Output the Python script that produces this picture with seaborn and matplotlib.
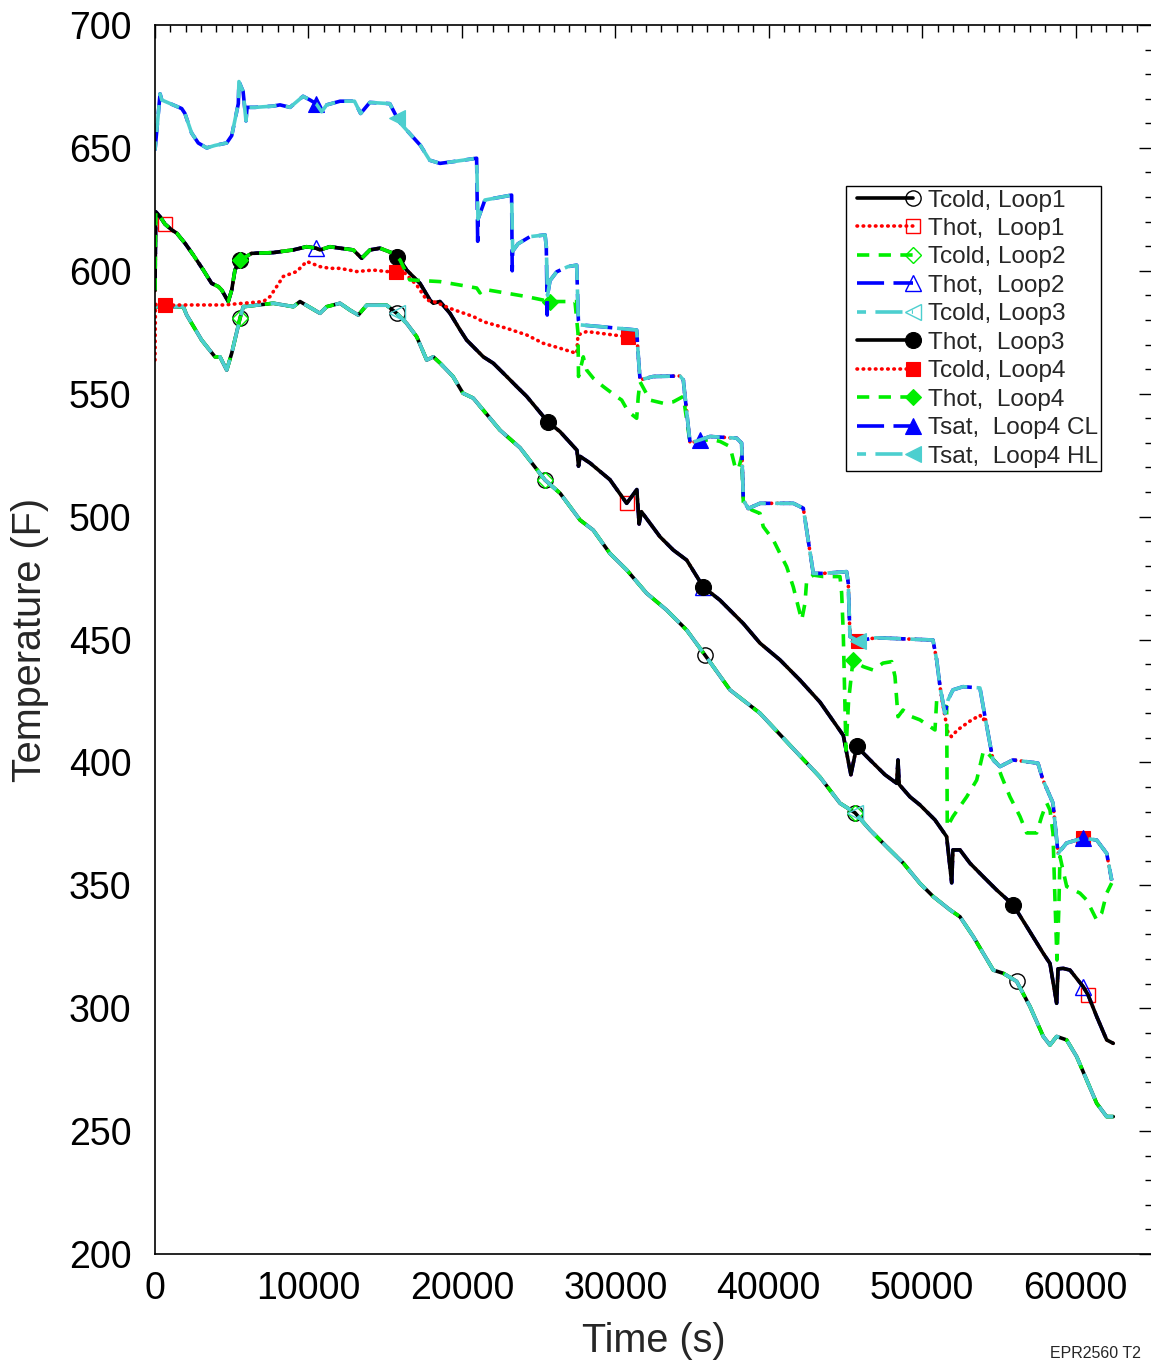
import numpy as np
import matplotlib
matplotlib.use("Agg")
import matplotlib.pyplot as plt
import seaborn as sns
from matplotlib.lines import Line2D
from matplotlib.ticker import MultipleLocator
from matplotlib.legend_handler import HandlerLine2D

# ---------------- data (time in s, temperature in F) ----------------
# Saturation temperature, hot leg (cold leg identical except for spikes)
TSAT_T = [0, 330, 440, 1740, 1950, 2390, 2820, 3370, 3910, 4670, 5000, 5430, 5470, 5740,
          5930, 6000, 6520, 7690, 8150, 8800, 9650, 10100, 10500, 10860, 11190, 12060, 13000,
          13400, 14000, 15300, 15800, 16000, 17300, 17900, 18570, 19420, 20960, 21050, 21500,
          23240, 23310, 23660, 24440, 25420, 25500, 25580, 25740, 26180, 26910, 27480, 27590,
          27700, 29000, 31390, 31500, 31610, 32470, 34210, 34430, 34540, 34870, 35520, 36170,
          37910, 38230, 38340, 38660, 39430, 41600, 42250, 42900, 43550, 45070, 45180, 45290,
          45800, 47000, 50700, 50940, 51160, 51480, 51680, 52000, 52660, 53760, 54090, 54610,
          55070, 55910, 57540, 57870, 58520, 58850, 59410, 60480, 61370, 62020, 62350]
TSAT_HL = [649, 672, 669.5, 666, 664, 656, 652, 650, 651, 652, 655, 668, 677, 673,
           661, 666.5, 666.5, 667, 667.5, 666.5, 671, 669.5, 668, 664.7, 667.5, 669, 669,
           664, 668.5, 668, 662, 660, 651, 645, 643.7, 644.4, 645.8, 621, 628.8,
           630.8, 608, 611, 613.9, 614.6, 609.8, 590, 596, 599.6, 601.7, 602.3, 580,
           578, 577.3, 575.9, 565, 555.6, 557, 557.2, 555.6, 548.9, 529.9, 531.2, 532.6,
           531.9, 529.9, 506.8, 503.3, 505.4, 505.4, 503.4, 476.9, 476.9, 477.6, 472.9, 451.2,
           449.5, 450.7, 449.8, 441.7, 430.8, 420, 425.4, 429.5, 430.8, 430.3, 418.6, 401,
           398.3, 401, 399.7, 392.8, 383.5, 363, 367.2, 369.2, 368.4, 363, 352]
CL_SPIKE_T = [21030, 23280, 25560]
CL_SPIKE_V = [612, 600, 582]

# Hot-leg temperature, loops 1-3
THOT_T = [0, 50, 330, 650, 1100, 1420, 1955, 2500, 3150, 3690, 4125, 4345, 4775, 5000, 5210,
          5540, 6300, 7710, 9010, 9880, 10500, 10750, 11400, 12060, 12920, 13470, 14010, 14660,
          15530, 15800, 15970, 16400, 17270, 17920, 18140, 18570, 19225, 19876, 20313, 20743,
          21395, 22046, 22920, 23571, 24223, 25610, 26390, 27500, 27600, 27700, 28350, 29650,
          30740, 31400, 31550, 31700, 32910, 33776, 34650, 35730, 36820, 38340, 39430, 40730,
          42030, 43340, 44855, 45350, 45730, 46600, 47570, 48335, 48420, 48500, 49200, 49850,
          50830, 51590, 51920, 52000, 52460, 53110, 53980, 54850, 55930, 56810, 57890, 58325,
          58760, 58850, 59190, 59630, 60495, 60800, 61370, 62020, 62450]
THOT_V = [592, 624, 622, 619, 616.6, 615.3, 611.2, 606.4, 600.3, 594.9, 593.6, 592.2, 587.5,
          592.2, 600.3, 604.4, 607.1, 607.4, 608.5, 609.8, 609.2, 608.5, 609.8, 609.2, 608.5,
          605.1, 608.5, 609.2, 607.1, 605.5, 604.4, 600.3, 594.9, 588.1, 586.8, 587.5, 582.7,
          576, 571.8, 569.1, 565, 562.4, 557, 552.9, 548.9, 538.5, 534.6, 527, 520.5, 524.5,
          521.8, 515, 505.4, 511, 497, 502, 491.8, 486.4, 482.3, 471.4, 466, 456.5, 448.5,
          441.7, 433.5, 424.5, 411, 395, 406.5, 401, 395, 391.5, 401, 391, 386, 382.7, 376.6,
          369.8, 351, 364.4, 364.4, 359, 353.5, 348.1, 342, 333.2, 322.3, 318.2, 302, 316,
          316.2, 315.5, 308.7, 305.5, 296.6, 287.1, 285.7]

# Cold-leg temperature, loops 1-3
TCOLD_T = [0, 110, 1845, 2065, 3043, 3910, 4236, 4673, 5000, 5540, 5754, 7710, 9013, 9450,
           10753, 11190, 12056, 12708, 13249, 13796, 15100, 15751, 16403, 17054, 17706, 18136,
           18573, 19420, 20070, 20740, 22480, 23790, 25415, 26400, 27700, 28560, 29650, 30740,
           32040, 33340, 34640, 35840, 37470, 39430, 41380, 43340, 44640, 45620, 46600, 47680,
           48770, 49850, 50720, 51810, 52460, 53330, 54630, 55280, 56155, 57020, 57890, 58325,
           58760, 59410, 60065, 61370, 62020, 62450]
TCOLD_V = [585.4, 585.4, 585.4, 582, 571.8, 565, 565, 559.6, 566.5, 580.7, 585.4, 586.8,
           585.4, 587.5, 582.7, 585.4, 586.8, 584, 582, 586, 586, 582.7, 578.6, 573.2, 563.7,
           565, 562.5, 557, 550.2, 548.2, 535.2, 528, 514.9, 509.5, 498.6, 494.5, 485, 478.3,
           468.8, 462, 453.9, 443.7, 429.5, 420, 407, 394, 383.4, 379.5, 372.5, 365.7, 359,
           350.8, 345.4, 340, 337.2, 329.1, 315.5, 314.2, 310.9, 300.7, 288.5, 285, 288.5,
           287.1, 280.3, 261.3, 255.9, 255.9]

# Cold-leg temperature, loop 4 (own values until it joins Tsat)
TC4_T = [0, 30, 110, 650, 1845, 4470, 7058, 7494, 7931, 8361, 9234, 9886, 10753, 11404, 12056,
         13144, 14226, 15100, 15700, 16181, 17054, 17706, 18136, 18573, 19225, 20743, 21395,
         22920, 24223, 25305, 26393, 27481, 27566, 28133, 29867, 30800, 31391]
TC4_V = [563.7, 586, 586.8, 586, 586.1, 586.1, 587.5, 589.5, 593.6, 597.7, 599.7, 603.8, 601.7,
         601, 601, 599.7, 600.3, 599.7, 599.7, 599.7, 594.2, 588.1, 587.5, 586.5, 584.7, 581.4,
         579.3, 576.6, 573.9, 570.5, 568.5, 566.4, 573.9, 575.3, 573.9, 573.2, 575.3]
TC4_DIP_T = [51300, 51680, 51900, 52300, 53110, 53760, 53980]
TC4_DIP_V = [425, 412, 410.5, 413.2, 416.8, 419.2, 417.2]

# Hot-leg temperature, loop 4 (follows loops 1-3 until ~16000 s)
TH4_T = [16600, 18573, 19876, 20965, 21180, 21400, 22260, 24220, 25740, 27370, 27566, 27600,
         27911, 28133, 28563, 29215, 30088, 30414, 30844, 31391, 31495, 31606, 32258, 33125,
         33776, 34428, 34870, 35516, 36168, 36820, 37472, 37797, 38013, 38233, 38338, 38885,
         39426, 39641, 40293, 40730, 41166, 41596, 41922, 42144, 42359, 42470, 42900, 43550,
         44640, 44750, 44855, 45030, 45200, 45490, 46139, 46790, 47442, 48009, 48224, 48420,
         48746, 49313, 49854, 50831, 50942, 51300, 51593, 51632, 52004, 52897, 53548, 53959,
         54089, 54852, 55178, 55718, 56370, 56807, 57458, 57784, 58110, 58325, 58521, 58651,
         58781, 58900, 58977, 59414, 60280, 60717, 61369, 61695, 62020, 62346]
TH4_V = [596.3, 595.6, 594.2, 593, 591, 592.5, 591.6, 589.5, 587.5, 587.5, 574.6, 557, 565,
         559.6, 556.3, 552.9, 548.8, 547.4, 542.7, 540, 548.9, 554.9, 547.4, 546.1, 546.7,
         548.9, 530, 530.5, 531.5, 530.6, 528.5, 520.4, 519, 524.4, 506, 502.7, 501.3, 495.9,
         490.5, 485, 479.6, 471.4, 463.3, 457.9, 464.7, 474.2, 476.2, 475.6, 475.6, 468.8,
         452.5, 405, 425, 441.7, 439, 437.6, 440.4, 441, 435, 418.6, 421.3, 418.6, 417.3,
         413.2, 425.4, 423, 422.7, 373.8, 378, 386, 392.8, 403.8, 405, 399.7, 394.2, 386, 378,
         371.3, 371.3, 378, 383.5, 380.6, 371.3, 344, 319.6, 340, 361.7, 349.5, 346.8, 344,
         335.9, 338.7, 346.8, 350.9]

LABELS = ["Tcold, Loop1", "Thot,  Loop1", "Tcold, Loop2", "Thot,  Loop2", "Tcold, Loop3",
          "Thot,  Loop3", "Tcold, Loop4", "Thot,  Loop4", "Tsat,  Loop4 CL", "Tsat,  Loop4 HL"]
MARK_TIMES = [[5600, 15800, 25800, 35800, 45800, 55800],
              [650, 30700, 60800],
              [5600, 25800, 45800],
              [10500, 35500, 60500],
              [15800, 45800],
              [5600, 15800, 25800, 35800, 45800, 55800],
              [650, 15700, 30800, 45800, 60800],
              [5600, 25800, 45800],
              [10500, 35500, 60500],
              [15800, 45800]]

# ---------------- assemble series from the arrays ----------------
tsat_t = np.array(TSAT_T, float)
tsat_hl = np.array(TSAT_HL, float)
cl_t = np.concatenate([tsat_t, CL_SPIKE_T])
cl_v = np.concatenate([tsat_hl, CL_SPIKE_V])
order = np.argsort(cl_t, kind="stable")
cl_t, cl_v = cl_t[order], cl_v[order]

thot_t, thot_v = np.array(THOT_T, float), np.array(THOT_V, float)
tcold_t, tcold_v = np.array(TCOLD_T, float), np.array(TCOLD_V, float)

m1 = (tsat_t > TC4_T[-1]) & (tsat_t < 51200)
m2 = tsat_t >= 54090
tc4_t = np.concatenate([TC4_T, tsat_t[m1], TC4_DIP_T, tsat_t[m2]])
tc4_v = np.concatenate([TC4_V, tsat_hl[m1], TC4_DIP_V, tsat_hl[m2]])

early = thot_t <= 15970
th4_t = np.concatenate([thot_t[early], TH4_T])
th4_v = np.concatenate([thot_v[early], TH4_V])

SERIES = [(tcold_t, tcold_v), (thot_t, thot_v), (tcold_t, tcold_v), (thot_t, thot_v),
          (tcold_t, tcold_v), (thot_t, thot_v), (tc4_t, tc4_v), (th4_t, th4_v),
          (cl_t, cl_v), (tsat_t, tsat_hl)]

# ---------------- styles ----------------
BLACK, RED, GREEN, BLUE, CYAN = "#000000", "#FF0000", "#00EE00", "#0000FF", "#4CCFCF"
LW = 2.6
DOT = (0, (0.15, 1.55))
GDASH = (0, (3.4, 2.6))
BDASH = (0, (7.5, 2.6))
CDASH = (5, (7.5, 2.6))
STYLES = [
    dict(color=BLACK, ls="-", marker="o", ms=11, filled=False),
    dict(color=RED, ls=DOT, marker="s", ms=9.5, filled=False),
    dict(color=GREEN, ls=GDASH, marker="D", ms=8, filled=False),
    dict(color=BLUE, ls=BDASH, marker="^", ms=12, filled=False),
    dict(color=CYAN, ls=CDASH, marker="<", ms=12, filled=False),
    dict(color=BLACK, ls="-", marker="o", ms=11.5, filled=True),
    dict(color=RED, ls=DOT, marker="s", ms=9.5, filled=True),
    dict(color=GREEN, ls=GDASH, marker="D", ms=8, filled=True),
    dict(color=BLUE, ls=BDASH, marker="^", ms=12, filled=True),
    dict(color=CYAN, ls=CDASH, marker="<", ms=12, filled=True),
]

sns.set_style("white")
plt.rcParams["font.family"] = ["Liberation Sans", "DejaVu Sans"]

W, H = 1151, 1363
fig = plt.figure(figsize=(W / 100, H / 100), dpi=100)
ax = fig.add_axes([155 / W, 109 / H, 997.4 / W, 1229 / H])

handles = []
for (t, v), st, marks in zip(SERIES, STYLES, MARK_TIMES):
    idx = sorted({int(np.argmin(np.abs(t - m))) for m in marks})
    sns.lineplot(x=t, y=v, ax=ax, estimator=None, sort=False, legend=False,
                 color=st["color"], linewidth=LW, linestyle=st["ls"],
                 marker=st["marker"], markevery=idx, markersize=st["ms"],
                 markerfacecolor=st["color"] if st["filled"] else "none",
                 markeredgecolor=st["color"], markeredgewidth=1.0 if not st["filled"] else 0.8,
                 dash_capstyle="round" if st["ls"] is DOT else "butt")
    handles.append(ax.lines[-1])

ax.set_xlim(0, 65000)
ax.set_ylim(200, 700)
ax.xaxis.set_major_locator(MultipleLocator(10000))
ax.xaxis.set_minor_locator(MultipleLocator(1000))
ax.yaxis.set_major_locator(MultipleLocator(50))
ax.yaxis.set_minor_locator(MultipleLocator(10))
ax.tick_params(which="both", direction="in", top=True, right=True, width=1.0, colors="black",
               labelsize=27)
ax.tick_params(which="major", length=9.5, pad=12)
ax.tick_params(which="minor", length=4.7)
ax.tick_params(axis="y", which="major", pad=17)
for s in ax.spines.values():
    s.set_linewidth(1.2)
    s.set_color("black")

ax.set_xlabel("Time (s)", fontsize=28.5, labelpad=11)
ax.set_ylabel("Temperature (F)", fontsize=28.5, labelpad=14)


class EndMarkerHandler(HandlerLine2D):
    """Line handle with its single marker drawn at the right end."""

    def get_xdata(self, legend, xdescent, ydescent, width, height, fontsize):
        x = np.array([-xdescent + 0.33 * fontsize, -xdescent + width])
        return x, x[-1:]

    def create_artists(self, legend, orig_handle, xdescent, ydescent, width, height,
                       fontsize, trans):
        arts = super().create_artists(legend, orig_handle, xdescent, ydescent, width,
                                      height, fontsize, trans)
        for a in arts:
            a.set_markevery([2])
        return arts


leg = ax.legend(handles, LABELS, handler_map={Line2D: EndMarkerHandler(numpoints=1)},
                loc="upper left", bbox_to_anchor=(846 / W, 1 - 186 / H),
                bbox_transform=fig.transFigure, fontsize=17.6, frameon=True, fancybox=False,
                edgecolor="black", framealpha=1, borderaxespad=0, handlelength=2.6,
                handletextpad=0.6, labelspacing=0.26, borderpad=0.14)
leg.get_frame().set_linewidth(1.0)

fig.text(1050 / W, 1.5 / H, "EPR2560 T2", fontsize=11.5, ha="left", va="bottom")

fig.savefig("out.png", dpi=100)
